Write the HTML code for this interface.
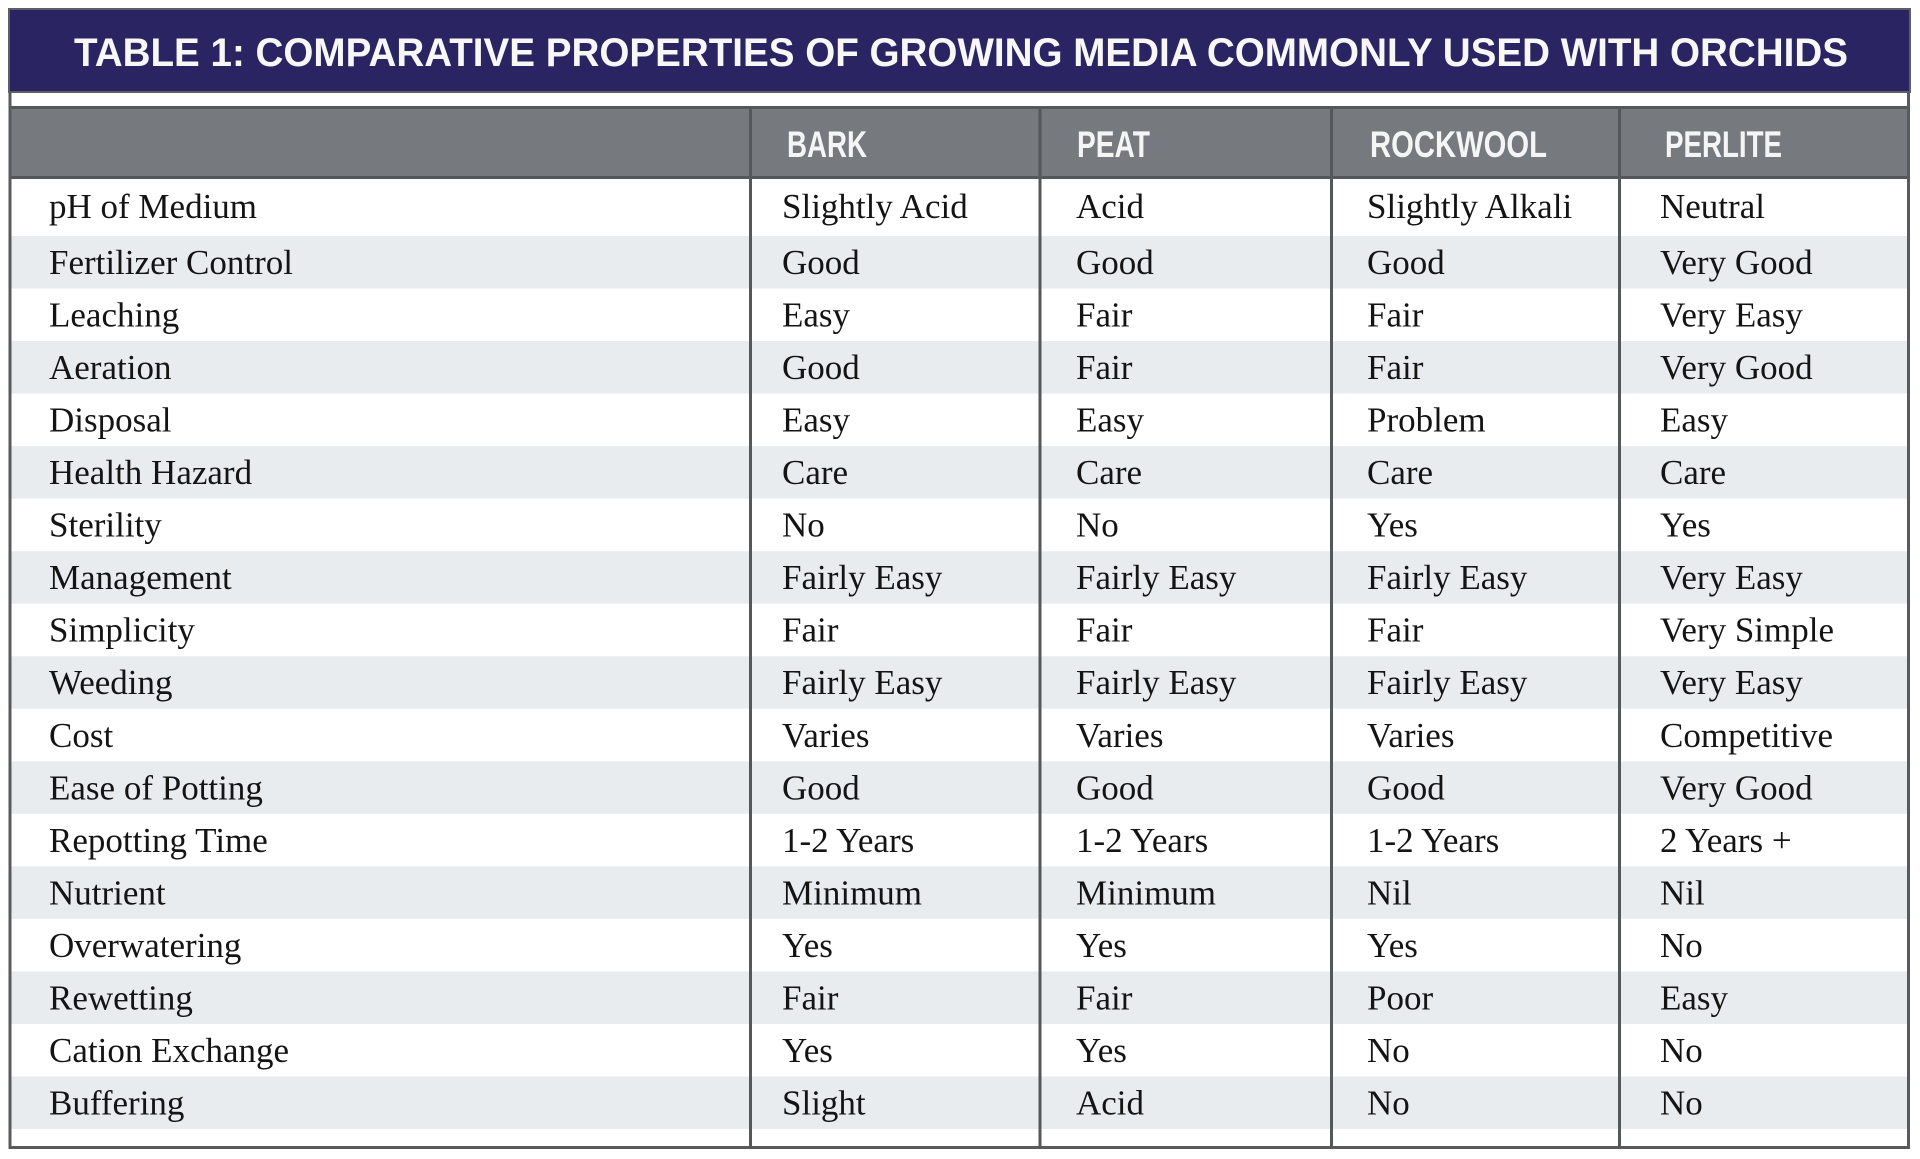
<!DOCTYPE html>
<html><head><meta charset="utf-8"><style>
html,body{margin:0;padding:0;background:#fff;}
svg{display:block;}
.d{font-family:"Liberation Serif",serif;font-size:35px;fill:#141414;}
.h{font-family:"Liberation Sans",sans-serif;font-weight:bold;font-size:37px;fill:#f5f5f5;}
</style></head><body>
<svg width="1920" height="1159" viewBox="0 0 1920 1159" xmlns="http://www.w3.org/2000/svg">
<rect x="0" y="0" width="1920" height="1159" fill="#fff"/>
<!-- title bar -->
<rect x="9" y="9" width="1901" height="83" fill="#2a2462" stroke="#5e5e66" stroke-width="2"/>
<text x="74" y="66" font-family="Liberation Sans, sans-serif" font-weight="bold" font-size="40" fill="#f7f7f7" textLength="1774" lengthAdjust="spacingAndGlyphs">TABLE 1: COMPARATIVE PROPERTIES OF GROWING MEDIA COMMONLY USED WITH ORCHIDS</text>
<!-- header -->
<rect x="10" y="106" width="1898" height="73" fill="#767a7e"/>
<line x1="10" y1="107.5" x2="1909" y2="107.5" stroke="#55585b" stroke-width="3"/>
<line x1="10" y1="177.5" x2="1909" y2="177.5" stroke="#55585b" stroke-width="3"/>
<!-- stripes -->
<g fill="#e9ecef">
<rect x="11" y="236" width="1897" height="52.53"/>
<rect x="11" y="341.06" width="1897" height="52.53"/>
<rect x="11" y="446.12" width="1897" height="52.53"/>
<rect x="11" y="551.18" width="1897" height="52.53"/>
<rect x="11" y="656.24" width="1897" height="52.53"/>
<rect x="11" y="761.29" width="1897" height="52.53"/>
<rect x="11" y="866.35" width="1897" height="52.53"/>
<rect x="11" y="971.41" width="1897" height="52.53"/>
<rect x="11" y="1076.47" width="1897" height="52.53"/>
</g>
<!-- frame -->
<line x1="10" y1="92" x2="10" y2="1149" stroke="#5a5a5e" stroke-width="3"/>
<line x1="1908.5" y1="92" x2="1908.5" y2="1149" stroke="#5a5a5e" stroke-width="3"/>
<line x1="8.5" y1="1147.5" x2="1910" y2="1147.5" stroke="#5a5a5e" stroke-width="3"/>
<!-- dividers -->
<g stroke="#55585b" stroke-width="3">
<line x1="750.5" y1="106" x2="750.5" y2="1147"/>
<line x1="1040" y1="106" x2="1040" y2="1147"/>
<line x1="1331.5" y1="106" x2="1331.5" y2="1147"/>
<line x1="1619.5" y1="106" x2="1619.5" y2="1147"/>
</g>
<!-- header text -->
<text class="h" x="787" y="157" textLength="80" lengthAdjust="spacingAndGlyphs">BARK</text>
<text class="h" x="1077" y="157" textLength="73" lengthAdjust="spacingAndGlyphs">PEAT</text>
<text class="h" x="1370" y="157" textLength="177" lengthAdjust="spacingAndGlyphs">ROCKWOOL</text>
<text class="h" x="1665" y="157" textLength="117" lengthAdjust="spacingAndGlyphs">PERLITE</text>
<!-- data -->
<g class="d">
<text x="49" y="218">pH of Medium</text><text x="782" y="218">Slightly Acid</text><text x="1076" y="218">Acid</text><text x="1367" y="218">Slightly Alkali</text><text x="1660" y="218">Neutral</text>
<text x="49" y="274">Fertilizer Control</text><text x="782" y="274">Good</text><text x="1076" y="274">Good</text><text x="1367" y="274">Good</text><text x="1660" y="274">Very Good</text>
<text x="49" y="326.5">Leaching</text><text x="782" y="326.5">Easy</text><text x="1076" y="326.5">Fair</text><text x="1367" y="326.5">Fair</text><text x="1660" y="326.5">Very Easy</text>
<text x="49" y="379">Aeration</text><text x="782" y="379">Good</text><text x="1076" y="379">Fair</text><text x="1367" y="379">Fair</text><text x="1660" y="379">Very Good</text>
<text x="49" y="431.6">Disposal</text><text x="782" y="431.6">Easy</text><text x="1076" y="431.6">Easy</text><text x="1367" y="431.6">Problem</text><text x="1660" y="431.6">Easy</text>
<text x="49" y="484.1">Health Hazard</text><text x="782" y="484.1">Care</text><text x="1076" y="484.1">Care</text><text x="1367" y="484.1">Care</text><text x="1660" y="484.1">Care</text>
<text x="49" y="536.6">Sterility</text><text x="782" y="536.6">No</text><text x="1076" y="536.6">No</text><text x="1367" y="536.6">Yes</text><text x="1660" y="536.6">Yes</text>
<text x="49" y="589.2">Management</text><text x="782" y="589.2">Fairly Easy</text><text x="1076" y="589.2">Fairly Easy</text><text x="1367" y="589.2">Fairly Easy</text><text x="1660" y="589.2">Very Easy</text>
<text x="49" y="641.7">Simplicity</text><text x="782" y="641.7">Fair</text><text x="1076" y="641.7">Fair</text><text x="1367" y="641.7">Fair</text><text x="1660" y="641.7">Very Simple</text>
<text x="49" y="694.2">Weeding</text><text x="782" y="694.2">Fairly Easy</text><text x="1076" y="694.2">Fairly Easy</text><text x="1367" y="694.2">Fairly Easy</text><text x="1660" y="694.2">Very Easy</text>
<text x="49" y="746.8">Cost</text><text x="782" y="746.8">Varies</text><text x="1076" y="746.8">Varies</text><text x="1367" y="746.8">Varies</text><text x="1660" y="746.8">Competitive</text>
<text x="49" y="799.3">Ease of Potting</text><text x="782" y="799.3">Good</text><text x="1076" y="799.3">Good</text><text x="1367" y="799.3">Good</text><text x="1660" y="799.3">Very Good</text>
<text x="49" y="851.8">Repotting Time</text><text x="782" y="851.8">1-2 Years</text><text x="1076" y="851.8">1-2 Years</text><text x="1367" y="851.8">1-2 Years</text><text x="1660" y="851.8">2 Years +</text>
<text x="49" y="904.4">Nutrient</text><text x="782" y="904.4">Minimum</text><text x="1076" y="904.4">Minimum</text><text x="1367" y="904.4">Nil</text><text x="1660" y="904.4">Nil</text>
<text x="49" y="956.9">Overwatering</text><text x="782" y="956.9">Yes</text><text x="1076" y="956.9">Yes</text><text x="1367" y="956.9">Yes</text><text x="1660" y="956.9">No</text>
<text x="49" y="1009.4">Rewetting</text><text x="782" y="1009.4">Fair</text><text x="1076" y="1009.4">Fair</text><text x="1367" y="1009.4">Poor</text><text x="1660" y="1009.4">Easy</text>
<text x="49" y="1061.9">Cation Exchange</text><text x="782" y="1061.9">Yes</text><text x="1076" y="1061.9">Yes</text><text x="1367" y="1061.9">No</text><text x="1660" y="1061.9">No</text>
<text x="49" y="1114.5">Buffering</text><text x="782" y="1114.5">Slight</text><text x="1076" y="1114.5">Acid</text><text x="1367" y="1114.5">No</text><text x="1660" y="1114.5">No</text>
</g>
</svg>
</body></html>
